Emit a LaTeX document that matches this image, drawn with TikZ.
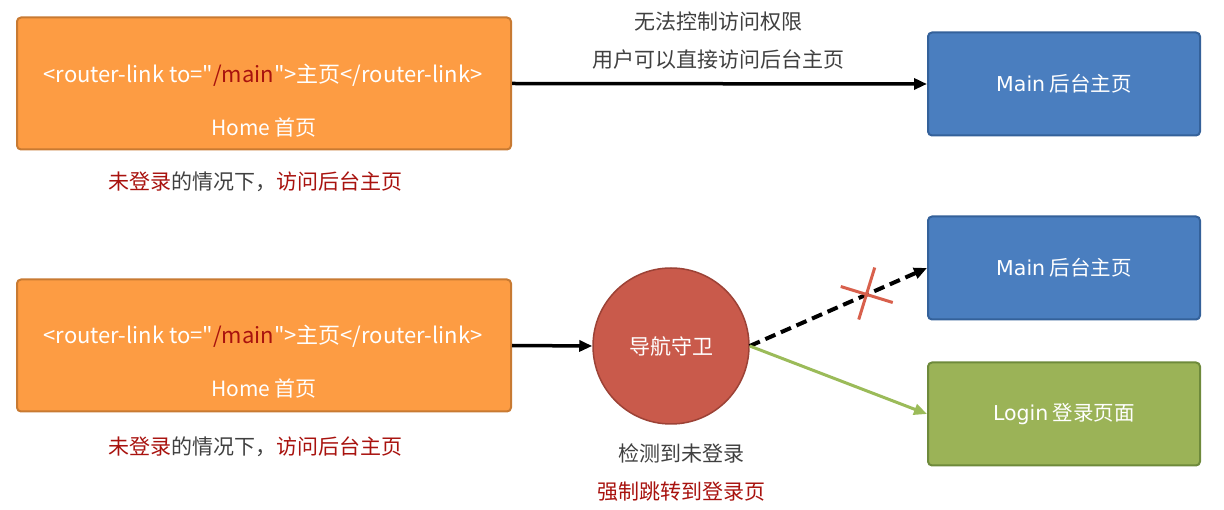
\documentclass[tikz,border=0pt]{standalone}
\usepackage{fontspec}
\setmainfont{Noto Sans CJK SC}
\newfontfamily\plainfont{Noto Sans CJK SC}
\newfontfamily\djv{DejaVu Sans}
\usetikzlibrary{arrows.meta}
\definecolor{orfill}{HTML}{FD9C43}
\definecolor{ordraw}{HTML}{C87A32}
\definecolor{blfill}{HTML}{4A7EBF}
\definecolor{bldraw}{HTML}{34619A}
\definecolor{grfill}{HTML}{9BB357}
\definecolor{grdraw}{HTML}{6E8A3B}
\definecolor{cifill}{HTML}{C95A4B}
\definecolor{cidraw}{HTML}{9C4236}
\definecolor{redtxt}{HTML}{A8120E}
\definecolor{graytxt}{HTML}{404040}
\definecolor{grline}{HTML}{9BBB59}
\definecolor{crossc}{HTML}{D8604C}
\tikzset{
  box/.style={draw, line width=2pt, rounded corners=4pt, inner sep=0pt},
  orbox/.style={box, fill=orfill, draw=ordraw, minimum width=494pt, minimum height=132pt},
  blbox/.style={box, fill=blfill, draw=bldraw, minimum width=272pt, minimum height=103pt, text=white, font=\fontsize{20.5}{24}\selectfont},
  grbox/.style={box, fill=grfill, draw=grdraw, minimum width=272pt, minimum height=103pt, text=white, font=\fontsize{20.5}{24}\selectfont},
  wtxt/.style={text=white, font=\plainfont\fontsize{21}{25}\selectfont, inner sep=0pt},
  codetxt/.style={text=white, font=\plainfont\fontsize{22}{26}\selectfont, inner sep=0pt},
  lbl/.style={font=\fontsize{21}{25}\selectfont, inner sep=0pt},
  blkarrow/.style={line width=3.5pt, -{Triangle[length=13pt,width=11pt]}},
  crossline/.style={draw=crossc, line width=3pt},
}
\begin{document}
\begin{tikzpicture}[x=1pt,y=-1pt]
\useasboundingbox (0,0) rectangle (1224,510);
% top row
\node[orbox] (home1) at (264,83.5) {};
\node[codetxt] (home1a) at (263,75) {<router-link to="\textcolor{redtxt}{/main}">主页</router-link>};
\node[wtxt] (home1b) at (264,128) {Home 首页};
\node[lbl] (note1) at (255,182) {\textcolor{redtxt}{未登录}\textcolor{graytxt}{的情况下，}\textcolor{redtxt}{访问后台主页}};
\node[blbox] (main1) at (1064,84) {{\djv Main} 后台主页};
\draw[blkarrow] (home1.east) -- (main1.west);
\node[lbl, text=graytxt] (t1) at (718,22) {无法控制访问权限};
\node[lbl, text=graytxt] (t2) at (718,60) {用户可以直接访问后台主页};
% bottom row
\node[orbox] (home2) at (264,345.5) {};
\node[codetxt] (home2a) at (263,336) {<router-link to="\textcolor{redtxt}{/main}">主页</router-link>};
\node[wtxt] (home2b) at (264,389) {Home 首页};
\node[lbl] (note2) at (255,447) {\textcolor{redtxt}{未登录}\textcolor{graytxt}{的情况下，}\textcolor{redtxt}{访问后台主页}};
\node[circle, draw=cidraw, fill=cifill, line width=1.5pt, minimum size=156pt, inner sep=0pt, text=white, font=\fontsize{21}{25}\selectfont] (guard) at (671,346) {导航守卫};
\node[blbox] (main2) at (1064,268) {{\djv Main} 后台主页};
\node[grbox] (login) at (1064,414) {{\djv Login} 登录页面};
\node[lbl, text=graytxt] (t3) at (681,453) {检测到未登录};
\node[lbl, text=redtxt] (t4) at (681,492) {强制跳转到登录页};
\draw[blkarrow] (home2.east) -- (guard.west);
\draw[line width=4pt, dash pattern=on 11pt off 6pt, -{Triangle[length=13pt,width=11pt]}] (guard.east) -- coordinate[pos=0.66] (xc) (main2.west);
\draw[line width=3pt, draw=grline, -{Triangle[length=13pt,width=11pt]}, color=grline] (guard.east) -- (login.west);
\draw[crossline] ([shift={(-26,-8)}]xc) -- ([shift={(26,8)}]xc);
\draw[crossline] ([shift={(8,-27)}]xc) -- ([shift={(-8,25)}]xc);
\end{tikzpicture}
\end{document}
